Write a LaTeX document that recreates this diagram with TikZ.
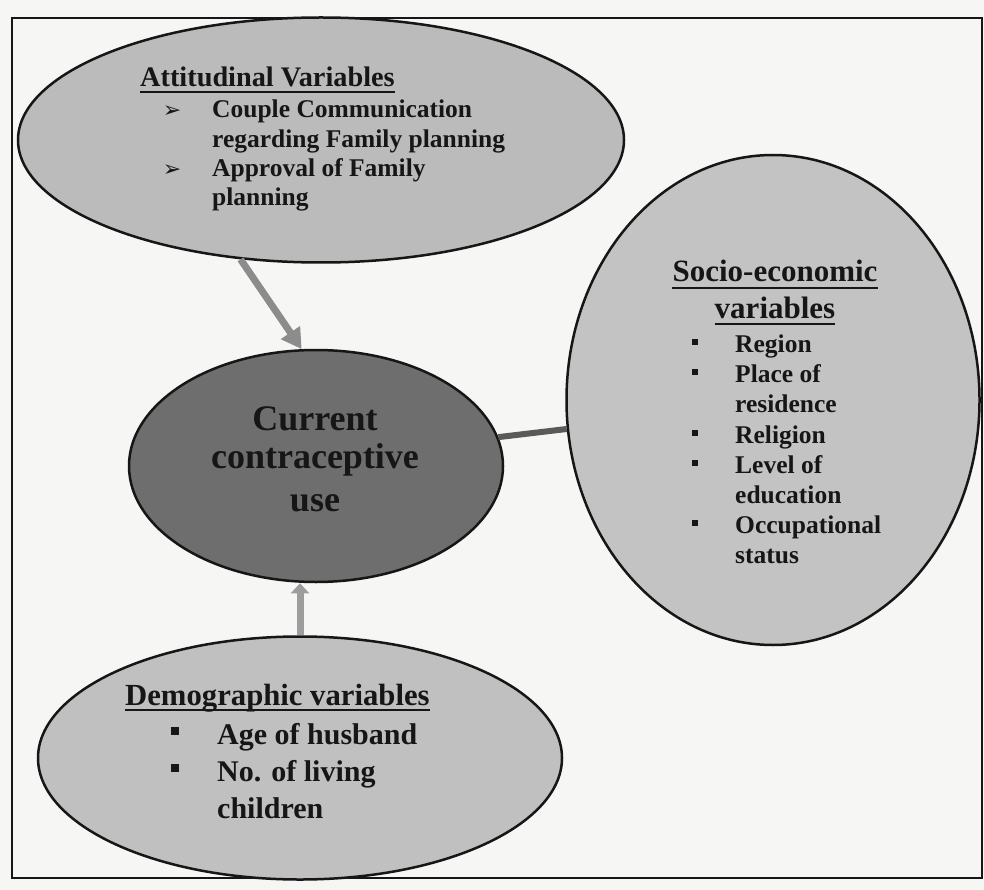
\documentclass[tikz,border=0pt]{standalone}
\usepackage{fontspec}
\setmainfont{Liberation Serif}
\newfontfamily\symfont{DejaVu Sans}
\usetikzlibrary{shapes.geometric,arrows.meta}
\definecolor{paper}{HTML}{F6F6F4}
\definecolor{attfill}{HTML}{BBBBBB}
\definecolor{curfill}{HTML}{6E6E6E}
\definecolor{socfill}{HTML}{C3C3C3}
\definecolor{demfill}{HTML}{C0C0C0}
\definecolor{arrowgray}{HTML}{8C8C8C}
\definecolor{linkgray}{HTML}{5A5A5A}
\definecolor{ink}{HTML}{161616}

\begin{document}
\begin{tikzpicture}[x=1pt,y=-1pt,
    blob/.style={ellipse,draw=ink,line width=2.5pt,inner sep=0pt},
    itm/.style={text=ink,anchor=base west,inner sep=0pt},
    ttl/.style={text=ink,inner sep=0pt},
    uline/.style={draw=ink,line width=2.4pt},
    sq/.style={fill=ink,minimum size=6.5pt,inner sep=0pt},
    arr/.style={-{Triangle[width=22pt,length=20pt]},line width=7pt,draw=arrowgray}]
    \useasboundingbox[fill=paper] (0,0) rectangle (984,890);
    \draw[line width=2pt,draw=ink] (12,18) rectangle (982,878);
    % the four ellipses
    \node[blob,fill=attfill,minimum width=606pt,minimum height=245pt] (att) at (321,140) {};
    \node[blob,fill=curfill,minimum width=374pt,minimum height=232pt] (cur) at (316,466) {};
    \node[blob,fill=socfill,minimum width=413pt,minimum height=490pt] (soc) at (773,400) {};
    \node[blob,fill=demfill,minimum width=524pt,minimum height=243pt] (dem) at (300,758) {};
    % connectors
    \draw[arr] (att.236.5) -- (cur.97.5);
    \draw[arr,-{Triangle[width=18pt,length=10pt]},draw=arrowgray!85] (dem.north) -- (dem.north |- cur.south);
    \draw[line width=6pt,draw=linkgray] (cur.9) -- (soc.188);
    % attitudinal variables
    \node[ttl,anchor=base west,font=\bfseries\fontsize{28.3}{34}\selectfont] (attT) at (140,87) {Attitudinal Variables};
    \draw[uline] ([yshift=-5pt]attT.base west) -- ([yshift=-5pt]attT.base east);
    \foreach \yy/\tx [count=\i] in {118/Couple Communication,148/regarding Family planning,177/Approval of Family,206/planning}
        \node[itm,font=\bfseries\fontsize{25.5}{30}\selectfont] (attL\i) at (212,\yy) {\tx};
    \node[text=ink,anchor=base,font=\symfont\fontsize{22}{22}\selectfont] (attB1) at (172,118) {➢};
    \node[text=ink,anchor=base,font=\symfont\fontsize{22}{22}\selectfont] (attB2) at (172,177) {➢};
    % outcome
    \node[ttl,anchor=base,font=\bfseries\fontsize{36}{40}\selectfont] (curT1) at (315,430) {Current};
    \node[ttl,anchor=base,font=\bfseries\fontsize{36}{40}\selectfont] (curT2) at (315,468) {contraceptive};
    \node[ttl,anchor=base,font=\bfseries\fontsize{36}{40}\selectfont] (curT3) at (315,511) {use};
    % socio-economic variables
    \node[ttl,anchor=base,font=\bfseries\fontsize{31}{37}\selectfont] (socT1) at (775,282) {Socio-economic};
    \draw[uline] ([yshift=-6pt]socT1.base west) -- ([yshift=-6pt]socT1.base east);
    \node[ttl,anchor=base,font=\bfseries\fontsize{31}{37}\selectfont] (socT2) at (775,318) {variables};
    \draw[uline] ([yshift=-6pt]socT2.base west) -- ([yshift=-6pt]socT2.base east);
    \foreach \yy/\tx [count=\i] in {352/Region,382/Place of,412/residence,443/Religion,473/Level of,503/education,533/Occupational,563/status}
        \node[itm,font=\bfseries\fontsize{25.5}{30}\selectfont] (socL\i) at (735,\yy) {\tx};
    \foreach \yy [count=\i] in {342,372,433,463,523}
        \node[sq] (socB\i) at (695,\yy) {};
    % demographic variables
    \node[ttl,anchor=base west,font=\bfseries\fontsize{30.7}{37}\selectfont] (demT) at (125,705) {Demographic variables};
    \draw[uline] ([yshift=-5pt]demT.base west) -- ([yshift=-5pt]demT.base east);
    \foreach \yy/\tx [count=\i] in {744/Age of husband,781/No. of living,818/children}
        \node[itm,font=\bfseries\fontsize{30}{37}\selectfont] (demL\i) at (217,\yy) {\tx};
    \node[sq,minimum size=8pt] (demB1) at (175,731) {};
    \node[sq,minimum size=8pt] (demB2) at (175,768) {};
\end{tikzpicture}
\end{document}
